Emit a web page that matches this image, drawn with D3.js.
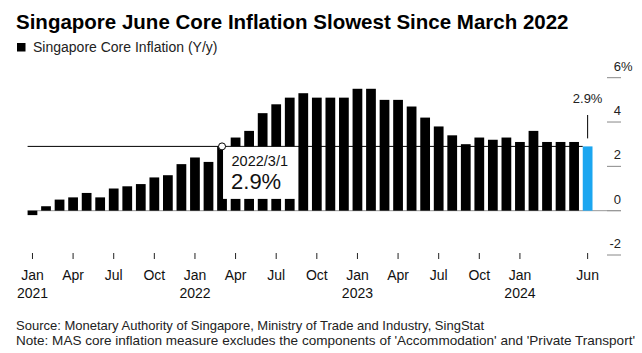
<!DOCTYPE html>
<html>
<head>
<meta charset="utf-8">
<script src="https://cdn.jsdelivr.net/npm/d3@7"></script>
<style>
  body { margin: 0; background: #fff; }
  svg { font-family: "Liberation Sans", Arial, sans-serif; }
</style>
</head>
<body>
<div id="chart"></div>
<script>
// monthly core inflation, Jan 2021 .. Jun 2024
const months = [
  "2021-01","2021-02","2021-03","2021-04","2021-05","2021-06","2021-07","2021-08","2021-09","2021-10","2021-11","2021-12",
  "2022-01","2022-02","2022-03","2022-04","2022-05","2022-06","2022-07","2022-08","2022-09","2022-10","2022-11","2022-12",
  "2023-01","2023-02","2023-03","2023-04","2023-05","2023-06","2023-07","2023-08","2023-09","2023-10","2023-11","2023-12",
  "2024-01","2024-02","2024-03","2024-04","2024-05","2024-06"
];
const coreInflation = [
  -0.2, 0.2, 0.5, 0.6, 0.8, 0.6, 1.0, 1.1, 1.2, 1.5, 1.6, 2.1,
  2.4, 2.2, 2.9, 3.3, 3.6, 4.4, 4.8, 5.1, 5.3, 5.1, 5.1, 5.1,
  5.5, 5.5, 5.0, 5.0, 4.7, 4.2, 3.8, 3.4, 3.0, 3.3, 3.2, 3.3,
  3.1, 3.6, 3.1, 3.1, 3.1, 2.9
];
const xTickMonths = ["2021-01","2021-04","2021-07","2021-10","2022-01","2022-04","2022-07","2022-10",
  "2023-01","2023-04","2023-07","2023-10","2024-01","2024-06"];
const monthNames = ["Jan","Feb","Mar","Apr","May","Jun","Jul","Aug","Sep","Oct","Nov","Dec"];
const yTicks = [-2, 0, 2, 4, 6];
const markedMonth = "2022-03";

const data = months.map((m, i) => ({month: m, value: coreInflation[i]}));
const last = data[data.length - 1];
const marked = data.find(d => d.month === markedMonth);

const width = 642, height = 353;

const svg = d3.select("#chart")
  .append("svg")
  .attr("width", width)
  .attr("height", height);

const x = d3.scaleBand()
  .domain(months)
  .range([25.7, 594.4])
  .paddingInner(0.28)
  .paddingOuter(0.14);

const y = d3.scaleLinear()
  .domain([-2, 6])
  .range([255, 77.7]);

// title + legend
svg.append("text")
  .attr("x", 16).attr("y", 28.5)
  .attr("font-size", 20.5).attr("font-weight", "bold")
  .attr("fill", "#000")
  .text("Singapore June Core Inflation Slowest Since March 2022");

svg.append("rect")
  .attr("x", 17).attr("y", 43).attr("width", 8.5).attr("height", 8.5)
  .attr("fill", "#000");
svg.append("text")
  .attr("x", 33).attr("y", 51.5)
  .attr("font-size", 14).attr("fill", "#222")
  .text("Singapore Core Inflation (Y/y)");

// y axis, on the right
const yAxis = svg.append("g");
yAxis.selectAll("line")
  .data(yTicks)
  .join("line")
    .attr("x1", 607).attr("x2", 621)
    .attr("y1", d => y(d)).attr("y2", d => y(d))
    .attr("stroke", "#888").attr("stroke-width", 1);
yAxis.selectAll("text.num")
  .data(yTicks)
  .join("text")
    .attr("class", "num")
    .attr("x", 621).attr("y", d => y(d) - 7)
    .attr("text-anchor", "end")
    .attr("font-size", 13).attr("fill", "#222")
    .text(d => d);
yAxis.append("text")
  .attr("x", 621).attr("y", y(yTicks[yTicks.length - 1]) - 7)
  .attr("font-size", 13).attr("fill", "#222")
  .text("%");

// zero line
svg.append("line")
  .attr("x1", x(months[0])).attr("x2", 621)
  .attr("y1", y(0)).attr("y2", y(0))
  .attr("stroke", "#999").attr("stroke-width", 1);

// reference line at latest value
svg.append("line")
  .attr("x1", x(months[0])).attr("x2", x(last.month))
  .attr("y1", y(last.value)).attr("y2", y(last.value))
  .attr("stroke", "#000").attr("stroke-width", 1);

// bars
svg.append("g")
  .selectAll("rect")
  .data(data)
  .join("rect")
    .attr("x", d => x(d.month))
    .attr("y", d => y(Math.max(0, d.value)))
    .attr("width", x.bandwidth())
    .attr("height", d => Math.abs(y(d.value) - y(0)))
    .attr("fill", d => d === last ? "#1ba6f0" : "#000");

// latest value label
const lx = x(last.month) + x.bandwidth() / 2;
svg.append("line")
  .attr("x1", lx).attr("x2", lx)
  .attr("y1", 115).attr("y2", y(last.value) - 8)
  .attr("stroke", "#000").attr("stroke-width", 1);
svg.append("text")
  .attr("x", lx).attr("y", 103)
  .attr("text-anchor", "middle")
  .attr("font-size", 13).attr("fill", "#222")
  .text(last.value.toFixed(1) + "%");

// marker + callout box
const mx = x(marked.month) + x.bandwidth() / 2;
const my = y(marked.value);
svg.append("rect")
  .attr("x", mx + 1).attr("y", my + 0.5)
  .attr("width", 75).attr("height", 52)
  .attr("fill", "#fff");
svg.append("circle")
  .attr("cx", mx).attr("cy", my).attr("r", 3.5)
  .attr("fill", "#fff").attr("stroke", "#000").attr("stroke-width", 1);
const [yy, mm] = marked.month.split("-");
svg.append("text")
  .attr("x", mx + 9.5).attr("y", my + 19.5)
  .attr("font-size", 14.5).attr("fill", "#111")
  .text(`${yy}/${+mm}/1`);
svg.append("text")
  .attr("x", mx + 9).attr("y", my + 43)
  .attr("font-size", 22).attr("fill", "#111")
  .text(marked.value.toFixed(1) + "%");

// x axis
const xAxis = svg.append("g")
  .attr("transform", "translate(0,253)")
  .call(d3.axisBottom(x)
    .tickValues(xTickMonths)
    .tickSize(6)
    .tickFormat(m => monthNames[+m.split("-")[1] - 1]));
xAxis.select(".domain").remove();
xAxis.selectAll(".tick line").attr("stroke", "#222");
xAxis.selectAll(".tick text")
  .attr("y", 27).attr("dy", null)
  .attr("font-size", 14).attr("fill", "#111")
  .attr("font-family", "Liberation Sans, Arial, sans-serif");
xAxis.selectAll(".tick")
  .filter(m => m.endsWith("-01"))
  .append("text")
    .attr("y", 44.5)
    .attr("text-anchor", "middle")
    .attr("font-size", 14).attr("fill", "#111")
    .text(m => m.split("-")[0]);

// footer
svg.append("text")
  .attr("x", 16).attr("y", 330)
  .attr("font-size", 13).attr("fill", "#222")
  .text("Source: Monetary Authority of Singapore, Ministry of Trade and Industry, SingStat");
svg.append("text")
  .attr("x", 16).attr("y", 345)
  .attr("font-size", 13).attr("fill", "#222")
  .attr("textLength", 619).attr("lengthAdjust", "spacingAndGlyphs")
  .text("Note: MAS core inflation measure excludes the components of 'Accommodation' and 'Private Transport'");
</script>
</body>
</html>
